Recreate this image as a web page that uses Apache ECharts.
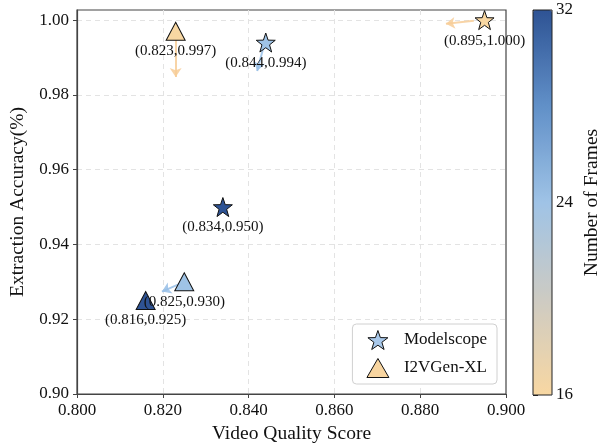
<!DOCTYPE html>
<html><head><meta charset="utf-8">
<script src="https://cdn.jsdelivr.net/npm/echarts@6/dist/echarts.min.js"></script>
<style>html,body{margin:0;padding:0;background:#fff}#c{width:610px;height:444px}</style>
</head><body><div id="c"></div>
<script>
// [videoQuality, extractionAccuracy, frames]
const modelscope = [[0.844, 0.994, 24], [0.895, 1.000, 16], [0.834, 0.950, 32]];
const i2vgen = [[0.823, 0.997, 16], [0.825, 0.930, 24], [0.816, 0.925, 32]];
// arrows: [x0, y0, x1, y1, frames]
const arrows = [
  [0.823, 0.9950, 0.823, 0.9848, 16],
  [0.8434, 0.9925, 0.8420, 0.9864, 24],
  [0.8925, 0.9998, 0.8860, 0.9990, 16],
  [0.8238, 0.9294, 0.8198, 0.9274, 24]
];
const xTicks = [0.80, 0.82, 0.84, 0.86, 0.88, 0.90];
const frameTicks = [16, 24, 32];
const palette = ['#f8d7a2', '#cdcbc3', '#9fc3e6', '#6190c8', '#2e5394'];
const arrowColor = {16: 'rgba(247,205,150,0.85)', 24: 'rgba(150,190,230,0.85)', 32: 'rgba(46,83,148,0.7)'};
const font = '"Liberation Serif", "Times New Roman", serif';
const starPath = 'path://M0,-10 L2.35,-3.24 L9.51,-3.09 L3.8,1.24 L5.88,8.09 L0,4 L-5.88,8.09 L-3.8,1.24 L-9.51,-3.09 L-2.35,-3.24 Z';

const chart = echarts.init(document.getElementById('c'));
const pointLabel = {
  show: true, position: 'bottom', distance: 3,
  fontFamily: font, fontSize: 15, color: '#111',
  formatter: p => '(' + p.value[0].toFixed(3) + ',' + p.value[1].toFixed(3) + ')'
};
chart.setOption({
  backgroundColor: '#fff',
  textStyle: {fontFamily: font},
  grid: [
    {left: 77, right: 104, top: 10, bottom: 50, show: true, borderColor: '#444', borderWidth: 1.2, z: 0,
     containLabel: false, outerBoundsMode: 'none'},
    {left: 533, width: 19, top: 10, bottom: 49, show: true, borderColor: '#222', borderWidth: 1, backgroundColor: 'transparent', z: 10,
     containLabel: false, outerBoundsMode: 'none'}
  ],
  xAxis: [
    {gridIndex: 0, type: 'value', min: xTicks[0], max: xTicks[xTicks.length - 1], interval: 0.02,
     name: 'Video Quality Score', nameLocation: 'middle', nameGap: 29,
     nameTextStyle: {fontFamily: font, fontSize: 19.5, color: '#111'},
     axisLine: {show: true, lineStyle: {color: '#444', width: 1.2}},
     axisTick: {show: true, inside: false, length: 4, lineStyle: {color: '#444'}},
     axisLabel: {fontFamily: font, fontSize: 17, color: '#111', margin: 8, formatter: v => v.toFixed(3)},
     splitLine: {show: true, showMinLine: false, showMaxLine: false, lineStyle: {color: '#e3e3e3', type: [5, 4], width: 1}}},
    {gridIndex: 1, type: 'value', show: false, min: 0, max: 1}
  ],
  yAxis: [
    {gridIndex: 0, type: 'value', min: 0.90, max: 1.0027, interval: 0.02,
     name: 'Extraction Accuracy(%)', nameLocation: 'middle', nameGap: 48,
     nameTextStyle: {fontFamily: font, fontSize: 19.5, color: '#111'},
     axisLine: {show: true, lineStyle: {color: '#444', width: 1.2}},
     axisTick: {show: true, inside: false, length: 4, lineStyle: {color: '#444'}},
     axisLabel: {fontFamily: font, fontSize: 17, color: '#111', margin: 8, showMaxLabel: false, formatter: v => v.toFixed(2)},
     splitLine: {show: true, showMinLine: false, showMaxLine: false, lineStyle: {color: '#e3e3e3', type: [5, 4], width: 1}}},
    {gridIndex: 1, type: 'value', position: 'right', min: frameTicks[0], max: frameTicks[frameTicks.length - 1], interval: 8,
     name: 'Number of Frames', nameLocation: 'middle', nameGap: 30, nameRotate: 90,
     nameTextStyle: {fontFamily: font, fontSize: 19.5, color: '#111'},
     axisLine: {show: false},
     axisTick: {show: true, inside: false, length: 5, lineStyle: {color: '#222'}},
     axisLabel: {fontFamily: font, fontSize: 17, color: '#111', margin: 4},
     splitLine: {show: false}}
  ],
  visualMap: {
    type: 'continuous', min: 16, max: 32, dimension: 2, seriesIndex: [0, 1],
    left: 533, top: 10, padding: 0, itemWidth: 19, itemHeight: 385,
    calculable: false, text: null, showLabel: false, hoverLink: false,
    inRange: {color: palette}, z: 4
  },
  legend: {
    orient: 'vertical', right: 113, bottom: 60,
    itemWidth: 22, itemHeight: 19, itemGap: 8,
    padding: [6, 10, 6, 14],
    borderColor: '#d0d0d0', borderWidth: 1, borderRadius: 4, backgroundColor: '#fff',
    textStyle: {fontFamily: font, fontSize: 17, color: '#111', padding: [0, 0, 0, 10]},
    data: [
      {name: 'Modelscope', icon: starPath,
       itemStyle: {color: '#a8c8ea', borderColor: '#111', borderWidth: 1}},
      {name: 'I2VGen-XL', icon: 'triangle', itemStyle: {color: '#f8d5a0', borderColor: '#111', borderWidth: 1}}
    ]
  },
  series: [
    {name: 'Modelscope', type: 'scatter', xAxisIndex: 0, yAxisIndex: 0, z: 5,
     symbol: starPath,
     symbolSize: 19, itemStyle: {color: '#a8c8ea', borderColor: '#111', borderWidth: 1, opacity: 1},
     label: pointLabel, data: modelscope},
    {name: 'I2VGen-XL', type: 'scatter', xAxisIndex: 0, yAxisIndex: 0, z: 5,
     symbol: 'triangle', symbolSize: [19, 18],
     itemStyle: {color: '#f8d5a0', borderColor: '#111', borderWidth: 1, opacity: 1},
     label: pointLabel, data: i2vgen},
    {type: 'lines', coordinateSystem: 'cartesian2d', xAxisIndex: 0, yAxisIndex: 0, z: 3,
     symbol: ['none', 'arrow'], symbolSize: [0, 9], silent: true,
     data: arrows.map(a => ({coords: [[a[0], a[1]], [a[2], a[3]]], lineStyle: {color: arrowColor[a[4]], width: 2, opacity: 1}}))}
  ]
});
</script></body></html>
